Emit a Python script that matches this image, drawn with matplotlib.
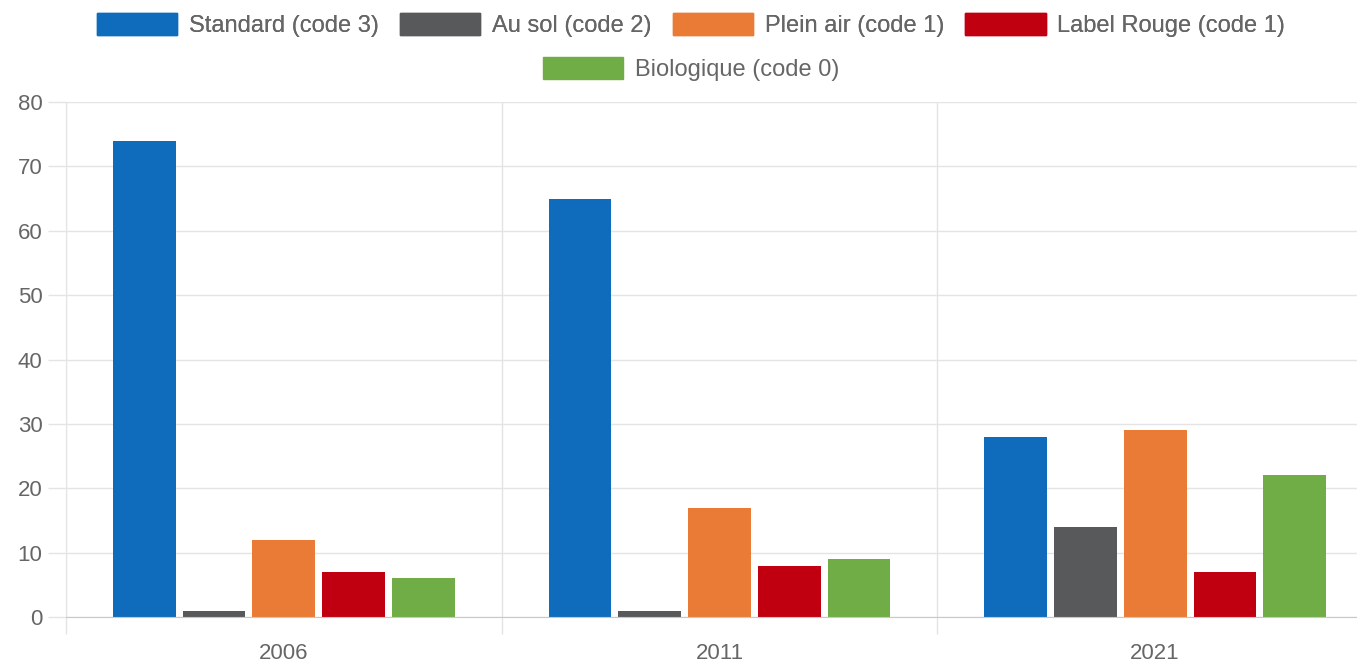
import matplotlib.pyplot as plt
from matplotlib.patches import Patch
import numpy as np

plt.rcParams['font.family'] = ['Liberation Sans', 'DejaVu Sans']

# Data
years = ['2006', '2011', '2021']
series = ['Standard (code 3)', 'Au sol (code 2)', 'Plein air (code 1)',
          'Label Rouge (code 1)', 'Biologique (code 0)']
standard = [74, 65, 28]
au_sol = [1, 1, 14]
plein_air = [12, 17, 29]
label_rouge = [7, 8, 7]
bio = [6, 9, 22]
values = [standard, au_sol, plein_air, label_rouge, bio]
colors = ['#0f6cbd', '#58595b', '#e97b37', '#c00010', '#70ad47']

grid_col = '#e4e4e4'
text_col = '#666666'

fig = plt.figure(figsize=(13.57, 6.66), dpi=100)
# the plot area runs a little past the right edge of the picture
ax = fig.add_axes([66 / 1357, 1 - 617 / 666, (1373 - 66) / 1357, (617 - 102) / 666])

x = np.arange(len(years))
step = 0.16
width = 0.144
for k, (name, vals, col) in enumerate(zip(series, values, colors)):
    ax.bar(x + (k - 2) * step, vals, width, color=col, label=name, zorder=3)

ax.set_xlim(-0.5, len(years) - 0.5)
ax.set_ylim(0, 80)
ax.set_yticks(np.arange(0, 81, 10))

# boundaries between categories carry the grid lines, centres carry the labels
ax.set_xticks(np.arange(-0.5, len(years)))
ax.set_xticklabels([])
ax.set_xticks(x, minor=True)
ax.set_xticklabels(years, minor=True)
ax.tick_params(axis='x', which='major', length=12, width=1, color=grid_col, direction='out')
ax.tick_params(axis='x', which='minor', length=0, pad=19, labelsize=16, labelcolor=text_col)
ax.tick_params(axis='y', length=13, width=1, color=grid_col, pad=4, labelsize=16, labelcolor=text_col)

ax.grid(True, which='major', color=grid_col, linewidth=1, zorder=0)
ax.set_axisbelow(True)
for s in ['top', 'right']:
    ax.spines[s].set_visible(False)
ax.spines['left'].set_color(grid_col)
ax.spines['bottom'].set_color('#c8c8c8')
ax.spines['bottom'].set_zorder(4)

# legend in two centred rows
handles = [Patch(facecolor=c, edgecolor=c) for c in colors]
leg_kw = dict(frameon=False, fontsize=17, labelcolor=text_col, handlelength=3.4,
              handleheight=1.1, handletextpad=0.5, columnspacing=0.9, borderpad=0, borderaxespad=0)
leg1 = fig.legend(handles[:4], series[:4], ncol=4, loc='center',
                  bbox_to_anchor=(691 / 1357, 1 - 25 / 666), **leg_kw)
fig.legend(handles[4:], series[4:], ncol=1, loc='center',
           bbox_to_anchor=(691 / 1357, 1 - 69 / 666), **leg_kw)
fig.add_artist(leg1)

fig.savefig('out.png', dpi=100)
